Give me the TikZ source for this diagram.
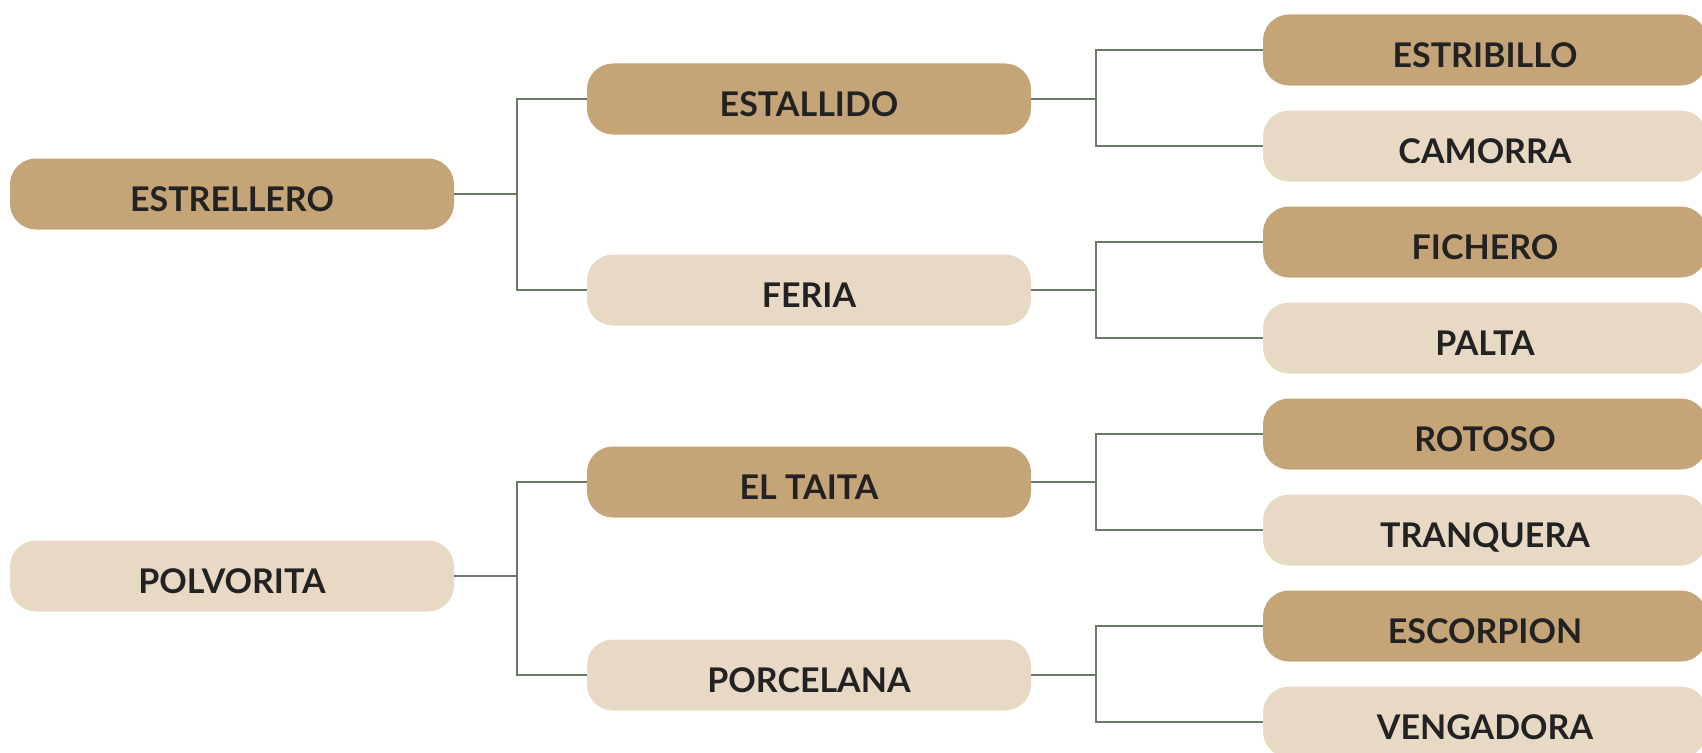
\documentclass[tikz,border=0pt]{standalone}
\usepackage{fontspec}
\setmainfont{Lato}
\definecolor{boxdark}{HTML}{C5A477}
\definecolor{boxlight}{HTML}{E8D9C5}
\definecolor{txt}{HTML}{222222}
\definecolor{linec}{HTML}{6A7A66}
\begin{document}
\begin{tikzpicture}[x=1pt,y=-1pt,
  box/.style={rounded corners=26pt, minimum width=444pt, minimum height=71pt, inner sep=0pt,
    font=\fontsize{34}{40}\selectfont\bfseries, text=txt, text height=34pt, text depth=0pt},
  dk/.style={box, fill=boxdark},
  lt/.style={box, fill=boxlight},
  link/.style={draw=linec, line width=1.3pt}]
\useasboundingbox (0,0) rectangle (1702,752);
% level 0
\node[dk] (estrellero) at (232,194) {ESTRELLERO};
\node[lt] (polvorita) at (232,576) {POLVORITA};
% level 1
\node[dk] (estallido) at (809,99) {ESTALLIDO};
\node[lt] (feria) at (809,290) {FERIA};
\node[dk] (eltaita) at (809,482) {EL TAITA};
\node[lt] (porcelana) at (809,675) {PORCELANA};
% level 2
\node[dk] (estribillo) at (1485,50) {ESTRIBILLO};
\node[lt] (camorra) at (1485,146) {CAMORRA};
\node[dk] (fichero) at (1485,242) {FICHERO};
\node[lt] (palta) at (1485,338) {PALTA};
\node[dk] (rotoso) at (1485,434) {ROTOSO};
\node[lt] (tranquera) at (1485,530) {TRANQUERA};
\node[dk] (escorpion) at (1485,626) {ESCORPION};
\node[lt] (vengadora) at (1485,722) {VENGADORA};
% buses
\coordinate (b1) at (517,0);
\coordinate (b2) at (1096,0);
% connectors
\foreach \p/\a/\b in {estrellero/estallido/feria, polvorita/eltaita/porcelana}{
  \draw[link] (\p.east) -- (\p.east -| b1) |- (\a.west);
  \draw[link] (\p.east -| b1) |- (\b.west);
}
\foreach \p/\a/\b in {estallido/estribillo/camorra, feria/fichero/palta, eltaita/rotoso/tranquera, porcelana/escorpion/vengadora}{
  \draw[link] (\p.east) -- (\p.east -| b2) |- (\a.west);
  \draw[link] (\p.east -| b2) |- (\b.west);
}
\end{tikzpicture}
\end{document}
